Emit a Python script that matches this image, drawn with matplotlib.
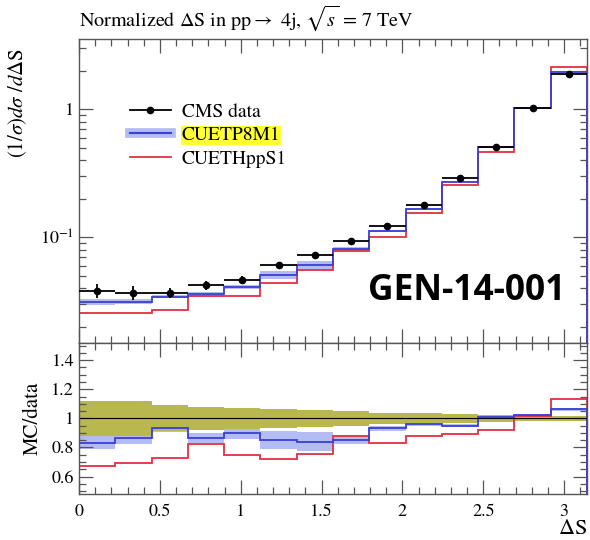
import numpy as np
import matplotlib
matplotlib.use('Agg')
import matplotlib.pyplot as plt
from matplotlib.lines import Line2D
from matplotlib.ticker import FixedLocator, FixedFormatter, MultipleLocator, NullFormatter

plt.rcParams['font.family'] = ['STIXGeneral', 'DejaVu Serif']
plt.rcParams['mathtext.fontset'] = 'stix'

# binning in Delta S (14 bins from 0 to pi)
edges = [0.0, 0.2244, 0.4488, 0.6732, 0.8976, 1.1220, 1.3464, 1.5708,
         1.7952, 2.0196, 2.2440, 2.4684, 2.6928, 2.9172, 3.1416]

# CMS data, normalized
data = [0.0383, 0.0369, 0.0369, 0.0422, 0.0462, 0.0608, 0.0728, 0.094,
        0.123, 0.179, 0.292, 0.507, 1.015, 1.897]
data_err = [0.12, 0.12, 0.09, 0.08, 0.072, 0.063, 0.057, 0.05, 0.04,
            0.034, 0.03, 0.025, 0.02, 0.016]  # relative

# MC predictions
cuetp8m1 = [0.0314, 0.0314, 0.0344, 0.0359, 0.0411, 0.0507, 0.0604, 0.0806,
            0.1127, 0.1664, 0.2718, 0.505, 1.018, 1.967]
cuetp8m1_err = [0.055, 0.045, 0.03, 0.04, 0.04, 0.07, 0.075, 0.035, 0.02,
                0.015, 0.012, 0.01, 0.008, 0.008]  # relative
cuethpps1 = [0.0258, 0.0258, 0.0270, 0.0348, 0.0348, 0.0442, 0.0552, 0.0786,
             0.101, 0.154, 0.256, 0.466, 1.018, 2.13]

# ratios MC/data
ratio_p8 = [0.833, 0.863, 0.936, 0.863, 0.897, 0.851, 0.84, 0.851, 0.931,
            0.961, 0.950, 1.007, 1.023, 1.062]
ratio_hpp = [0.675, 0.691, 0.726, 0.822, 0.748, 0.719, 0.758, 0.881, 0.829,
             0.881, 0.892, 0.920, 1.019, 1.132]

blue = '#3a3fd6'
band_blue = '#b4bcf4'
red = '#e2303f'
olive = '#b8b84e'
spine_c = '#555555'

edges = np.array(edges)
data = np.array(data)
data_err = np.array(data_err)
cuetp8m1 = np.array(cuetp8m1)
cuetp8m1_err = np.array(cuetp8m1_err)
ratio_p8 = np.array(ratio_p8)
centers = 0.5 * (edges[1:] + edges[:-1])
halfw = 0.5 * (edges[1:] - edges[:-1])

W, H = 590, 540
fig = plt.figure(figsize=(W / 100, H / 100), dpi=100)
ax = fig.add_axes([79 / W, 1 - 342.7 / H, 508 / W, (342.7 - 39) / H])
axr = fig.add_axes([79 / W, 1 - 494 / H, 508 / W, (494 - 342.7) / H])

# --- main panel
ax.stairs(cuetp8m1 * (1 + cuetp8m1_err), edges, baseline=cuetp8m1 * (1 - cuetp8m1_err),
          fill=True, color=band_blue, lw=0)
ax.stairs(cuethpps1, edges, color=red, lw=1.3)
ax.stairs(cuetp8m1, edges, color=blue, lw=1.3)
ax.errorbar(centers, data, xerr=halfw, yerr=data * data_err, fmt='o', color='k',
            ms=4.5, elinewidth=1.3, capsize=0, zorder=5)

ax.set_yscale('log')
ax.set_xlim(0, np.pi)
ax.set_ylim(0.01502, 3.54)
ax.yaxis.set_major_locator(FixedLocator([0.1, 1]))
ax.yaxis.set_major_formatter(FixedFormatter([r'$10^{-1}$', '1']))
minors = [m * 10.0 ** e for e in (-2, -1, 0) for m in range(2, 10)]
ax.yaxis.set_minor_locator(FixedLocator(minors))
ax.yaxis.set_minor_formatter(NullFormatter())
ax.xaxis.set_major_locator(MultipleLocator(0.5))
ax.xaxis.set_minor_locator(MultipleLocator(0.1))
ax.tick_params(axis='x', labelbottom=False)
ax.set_ylabel(r'$(1/\sigma)d\sigma\ /d\Delta$S', fontsize=15)
ax.yaxis.set_label_coords(-0.098, 0.79)

handles = [Line2D([], [], color='k', marker='o', ms=4.5, lw=1.3),
           (Line2D([], [], color=band_blue, lw=7), Line2D([], [], color=blue, lw=1.5)),
           Line2D([], [], color=red, lw=1.3)]
leg = ax.legend(handles, ['CMS data', 'CUETP8M1', 'CUETHppS1'], loc='upper left',
                bbox_to_anchor=(130 / W, 1 - 103 / H), bbox_transform=fig.transFigure,
                frameon=False, fontsize=14, handlelength=2.1, handletextpad=0.55,
                labelspacing=0.3, borderpad=0, borderaxespad=0)
leg.get_texts()[1].set_bbox(dict(facecolor='#ffff33', edgecolor='none', pad=0.5))

ax.text(467 / W, 1 - 291 / H, 'GEN-14-001', transform=fig.transFigure, ha='center',
        va='center', fontsize=25.5, fontweight='bold', family='Open Sans')

# --- ratio panel
axr.stairs(ratio_p8 * (1 + cuetp8m1_err), edges, baseline=ratio_p8 * (1 - cuetp8m1_err),
           fill=True, color=band_blue, lw=0)
axr.stairs(1 + data_err, edges, baseline=1 - data_err, fill=True, color=olive, lw=0)
axr.axhline(1, color='k', lw=0.8)
axr.stairs(ratio_hpp, edges, color=red, lw=1.3)
axr.stairs(ratio_p8, edges, color=blue, lw=1.3)

axr.set_xlim(0, np.pi)
axr.set_ylim(0.48, 1.52)
axr.yaxis.set_major_locator(FixedLocator([0.6, 0.8, 1.0, 1.2, 1.4]))
axr.yaxis.set_major_formatter(FixedFormatter(['0.6', '0.8', '1', '1.2', '1.4']))
axr.yaxis.set_minor_locator(MultipleLocator(0.05))
axr.xaxis.set_major_locator(FixedLocator([0, 0.5, 1, 1.5, 2, 2.5, 3]))
axr.xaxis.set_major_formatter(FixedFormatter(['0', '0.5', '1', '1.5', '2', '2.5', '3']))
axr.xaxis.set_minor_locator(MultipleLocator(0.1))
axr.set_ylabel('MC/data', fontsize=15, labelpad=6)
axr.set_xlabel(r'$\Delta$S', fontsize=16, loc='right', labelpad=0)

for a in (ax, axr):
    for s in a.spines.values():
        s.set_color(spine_c)
        s.set_linewidth(1.0)
    a.tick_params(which='both', direction='in', top=True, right=True,
                  color=spine_c, labelsize=13)
    a.tick_params(which='major', length=10, width=0.9)
    a.tick_params(which='minor', length=5, width=0.9)
axr.tick_params(axis='x', which='major', pad=7)

fig.text(79 / W, 1 - 26 / H, r'Normalized $\Delta$S in pp$\rightarrow$ 4j, $\sqrt{s}$ = 7 TeV',
         fontsize=14.5, ha='left', va='baseline')

fig.savefig('out.png', dpi=100, facecolor='white')
